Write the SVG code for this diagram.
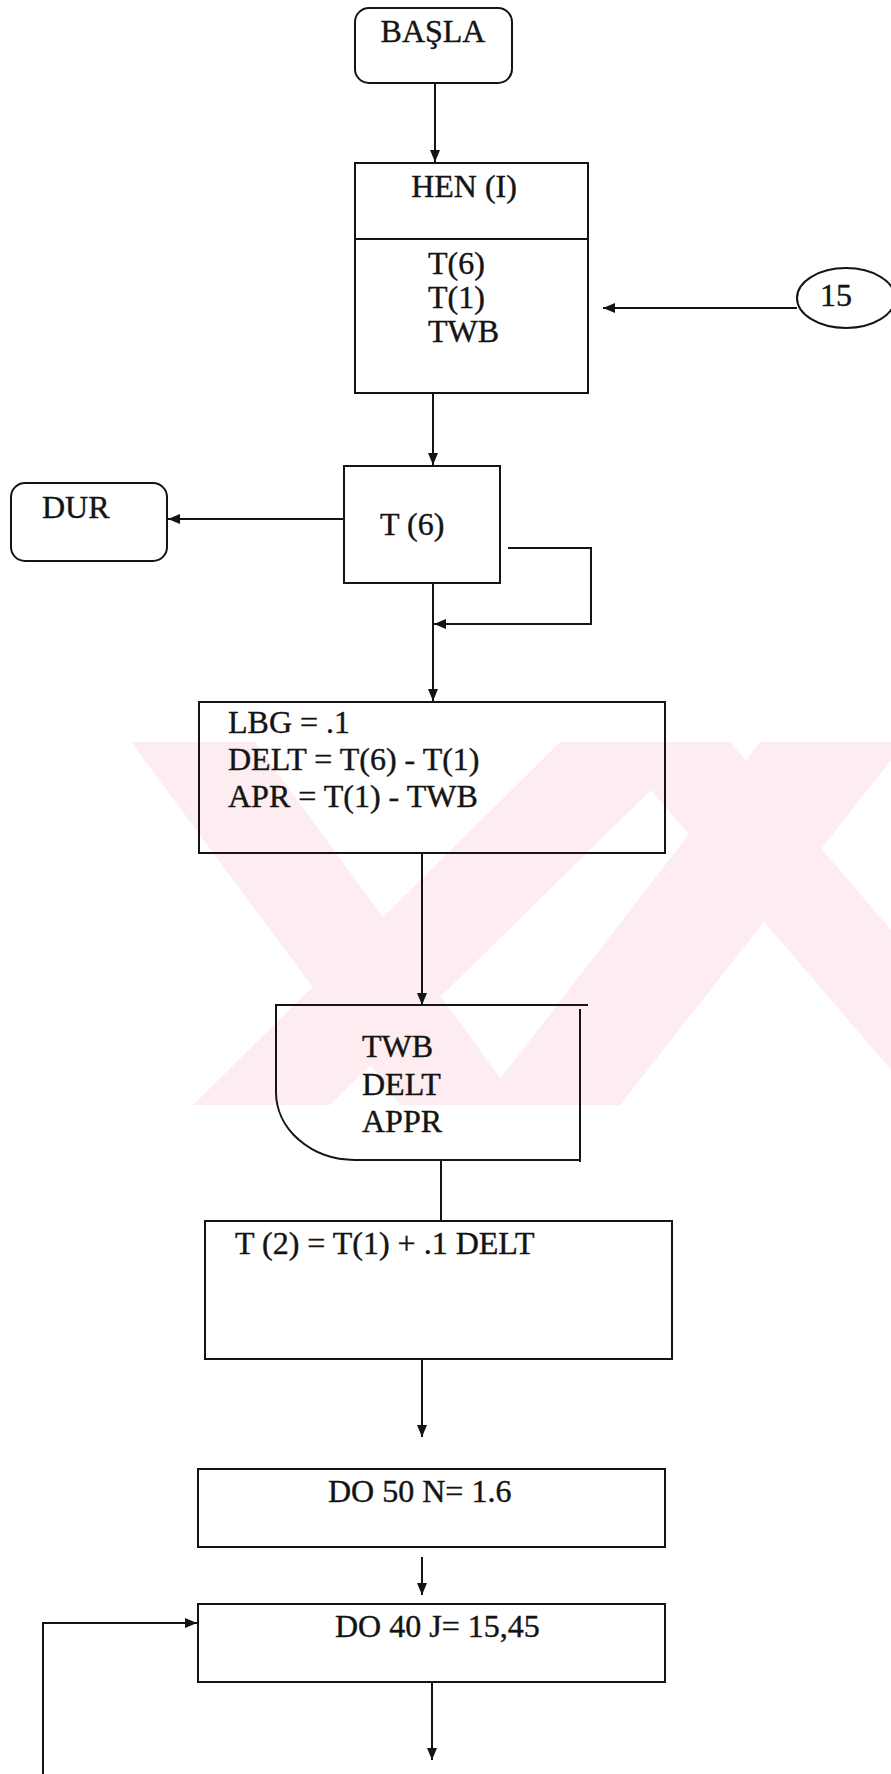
<svg xmlns="http://www.w3.org/2000/svg" width="891" height="1774" viewBox="0 0 891 1774">
<style>
.b{fill:none;stroke:#141414;stroke-width:2}
.t{font-family:"Liberation Serif","Times New Roman",serif;font-size:32px;fill:#141414;stroke:#141414;stroke-width:0.4}
.c{fill:none;stroke:#141414;stroke-width:2}
.wm{fill:#fdedf0;stroke:none}
</style>
<defs>
<marker id="ah" markerUnits="userSpaceOnUse" markerWidth="12" markerHeight="10" refX="12" refY="5" orient="auto">
<path d="M0,0 L12,5 L0,10 z" fill="#141414"/>
</marker>
</defs>
<rect width="891" height="1774" fill="#ffffff"/>
<g id="watermark">
<polygon class="wm" points="131,742 255,742 520,1105 400,1105"/>
<polygon class="wm" points="560,742 700,742 330,1105 193,1105"/>
<polygon class="wm" points="760,742 891,742 891,760 620,1105 480,1105"/>
<polygon class="wm" points="610,742 730,742 891,930 891,1070"/>
</g>
<g id="connectors">
<path class="c" d="M435 83 V162" marker-end="url(#ah)"/>
<path class="c" d="M797 308 H603" marker-end="url(#ah)"/>
<path class="c" d="M433 393 V465" marker-end="url(#ah)"/>
<path class="c" d="M344 519 H168" marker-end="url(#ah)"/>
<path class="c" d="M508 548 H591 V624 H434" marker-end="url(#ah)"/>
<path class="c" d="M433 583 V701" marker-end="url(#ah)"/>
<path class="c" d="M422 853 V1005" marker-end="url(#ah)"/>
<path class="c" d="M441 1160 V1221"/>
<path class="c" d="M422 1359 V1437" marker-end="url(#ah)"/>
<path class="c" d="M422 1557 V1595" marker-end="url(#ah)"/>
<path class="c" d="M43 1774 V1623 H197" marker-end="url(#ah)"/>
<path class="c" d="M432 1682 V1760" marker-end="url(#ah)"/>
</g>
<g id="basla">
<rect class="b" x="355" y="8" width="157" height="75" rx="14"/>
<text class="t" x="433" y="42" text-anchor="middle">BAŞLA</text>
</g>
<g id="hen">
<rect class="b" x="355" y="163" width="233" height="230"/>
<line class="b" x1="355" y1="239" x2="588" y2="239"/>
<text class="t" x="464" y="197" text-anchor="middle">HEN (I)</text>
<text class="t" x="428" y="274">T(6)</text>
<text class="t" x="428" y="308">T(1)</text>
<text class="t" x="428" y="342">TWB</text>
</g>
<g id="c15">
<ellipse class="b" cx="846" cy="298" rx="49" ry="30"/>
<text class="t" x="836" y="306" text-anchor="middle">15</text>
</g>
<g id="dur">
<rect class="b" x="11" y="483" width="156" height="78" rx="14"/>
<text class="t" x="42" y="518">DUR</text>
</g>
<g id="t6">
<rect class="b" x="344" y="466" width="156" height="117"/>
<text class="t" x="380" y="535">T (6)</text>
</g>
<g id="lbg">
<rect class="b" x="199" y="702" width="466" height="151"/>
<text class="t" x="228" y="733">LBG = .1</text>
<text class="t" x="228" y="770">DELT = T(6) - T(1)</text>
<text class="t" x="228" y="807">APR = T(1) - TWB</text>
</g>
<g id="display">
<path class="b" d="M275 1005 H588 M580 1009 V1162 M580 1160 H355 A79 68 0 0 1 276 1092 V1005"/>
<text class="t" x="362" y="1057">TWB</text>
<text class="t" x="362" y="1095">DELT</text>
<text class="t" x="362" y="1132">APPR</text>
</g>
<g id="t2">
<rect class="b" x="205" y="1221" width="467" height="138"/>
<text class="t" x="235" y="1254">T (2) = T(1) + .1 DELT</text>
</g>
<g id="do50">
<rect class="b" x="198" y="1469" width="467" height="78"/>
<text class="t" x="328" y="1502">DO 50 N= 1.6</text>
</g>
<g id="do40">
<rect class="b" x="198" y="1604" width="467" height="78"/>
<text class="t" x="335" y="1637">DO 40 J= 15,45</text>
</g>
</svg>
